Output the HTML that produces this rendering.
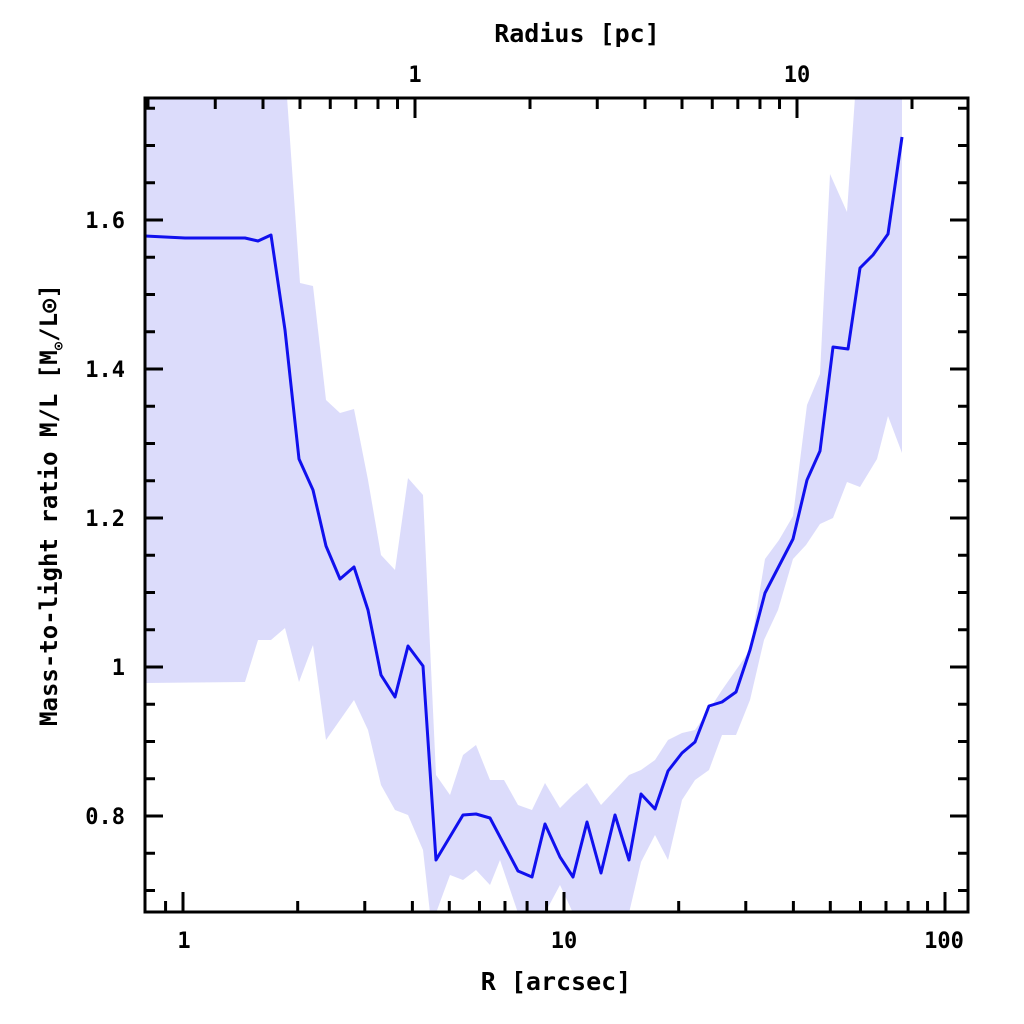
<!DOCTYPE html>
<html><head><meta charset="utf-8"><style>body{margin:0;background:#fff}svg{display:block}</style></head>
<body>
<svg id="s" width="1024" height="1024" xmlns="http://www.w3.org/2000/svg" font-family="'DejaVu Sans Mono','Liberation Mono',monospace" font-weight="bold">
<defs><clipPath id="c"><rect x="145" y="98" width="823" height="814"/></clipPath></defs>
<g clip-path="url(#c)">
<polygon fill="#dcdcfb" points="143,97 287,97 300,283 313,286 326,400 340,413 354,409 368,480 381,555 395,570 408,478 423,495 436,775 450,795 463,755 476,745 490,780 504,780 518,805 532,810 545,783 560,808 573,795 587,783 601,805 615,790 629,775 641,770 655,760 668,740 682,733 695,730 709,710 722,690 736,670 750,650 765,559 779,540 793,516 807,405 820,374 830,174 847,212 855,97 902,97 902,453 888,416 877,459 860,487 847,482 833,518 820,524 806,545 793,559 778,610 764,640 750,700 736,735 722,735 709,770 695,780 682,800 668,860 655,835 641,862 629,913 615,913 601,913 587,913 573,913 560,885 545,913 532,913 518,913 500,860 490,885 476,870 463,880 450,875 436,913 430,913 423,850 408,815 395,810 381,785 368,730 354,700 340,720 326,740 313,645 299,682 285,628 271,640 258,640 245,682 143,683"/>
</g>
<polyline fill="none" stroke="#1010ee" stroke-width="3" stroke-linejoin="round" points="145,236 185,238 245,238 258,241 271,235 285,330 299,459 313,490 326,546 340,579 354,567 368,610 381,675 395,697 408,646 423,666 436,860 463,815 476,814 490,818 518,871 532,877 545,824 560,857 573,877 587,822 601,873 615,815 629,860 641,794 655,809 668,771 682,753 695,742 709,706 722,702 736,692 750,650 765,593 779,566 793,539 807,480 820,451 833,347 848,349 860,268 873,255 888,234 902,137"/>
<rect x="145" y="98" width="823" height="814" fill="none" stroke="#000" stroke-width="3"/>
<g id="t" stroke="#000" stroke-width="3"></g>
<g font-size="22" fill="#000">
<text x="125" y="228" text-anchor="end">1.6</text>
<text x="125" y="377" text-anchor="end">1.4</text>
<text x="125" y="526" text-anchor="end">1.2</text>
<text x="125" y="675" text-anchor="end">1</text>
<text x="125" y="824" text-anchor="end">0.8</text>
<text x="184" y="948" text-anchor="middle">1</text>
<text x="564" y="948" text-anchor="middle">10</text>
<text x="944" y="948" text-anchor="middle">100</text>
<text x="415" y="82" text-anchor="middle">1</text>
<text x="797" y="82" text-anchor="middle">10</text>
<text x="556" y="990" text-anchor="middle" font-size="25">R [arcsec]</text>
<text x="577" y="42" text-anchor="middle" font-size="25">Radius [pc]</text>
<text transform="translate(57,505) rotate(-90)" text-anchor="middle" font-size="24">Mass-to-light ratio M/L [M<tspan font-size="14" dy="6">⊙</tspan><tspan dy="-6">/L⊙]</tspan></text>
</g>
</svg>
<script>
var g=document.getElementById('t'),h='';
function L(a,b,c,d){h+='<line x1="'+a+'" y1="'+b+'" x2="'+c+'" y2="'+d+'"/>';}
for(var i=14;i<=35;i++){var v=i*0.05,y=667-(v-1)*745;if(y<100||y>910)continue;var len=(i%4==0)?18:10;L(145,y,145+len,y);L(968,y,968-len,y);}
for(var e=-1;e<=2;e++)for(var m=1;m<10;m++){var v=m*Math.pow(10,e),x=183+381*Math.log10(v);if(x<147||x>966)continue;var len=m==1?20:11;L(x,912,x,912-len);}
for(var e=-1;e<=1;e++)for(var m=1;m<10;m++){var v=m*Math.pow(10,e),x=415+382*Math.log10(v);if(x<147||x>966)continue;var len=m==1?20:11;L(x,98,x,98+len);}
g.innerHTML=h;
</script>
</body></html>
